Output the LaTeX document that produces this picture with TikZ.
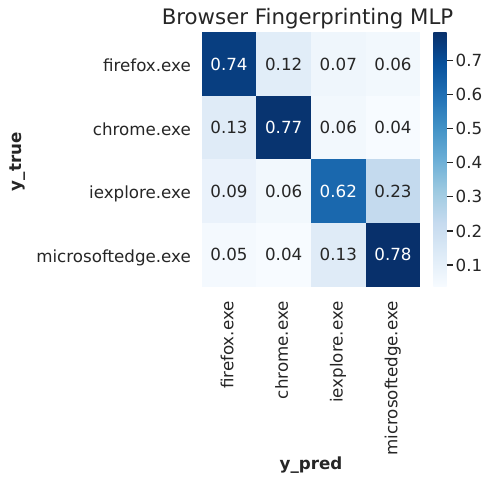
\documentclass[tikz,border=0pt]{standalone}
\usepackage{fontspec}
\setmainfont{DejaVu Sans}
\definecolor{txt}{RGB}{38,38,38}
% Blues colormap anchors
\definecolor{b0}{RGB}{247,251,255}
\definecolor{b1}{RGB}{222,235,247}
\definecolor{b2}{RGB}{198,219,239}
\definecolor{b3}{RGB}{158,202,225}
\definecolor{b4}{RGB}{107,174,214}
\definecolor{b5}{RGB}{66,146,198}
\definecolor{b6}{RGB}{33,113,181}
\definecolor{b7}{RGB}{8,81,156}
\definecolor{b8}{RGB}{8,48,107}
% cell colours
\definecolor{v74}{RGB}{8,62,128}
\definecolor{v12}{RGB}{225,237,248}
\definecolor{v07}{RGB}{239,246,252}
\definecolor{v06}{RGB}{242,248,253}
\definecolor{v13}{RGB}{223,235,247}
\definecolor{v77}{RGB}{8,52,112}
\definecolor{v04}{RGB}{247,251,255}
\definecolor{v09}{RGB}{234,242,251}
\definecolor{v62}{RGB}{26,104,174}
\definecolor{v23}{RGB}{196,218,238}
\definecolor{v05}{RGB}{244,249,254}
\definecolor{v78}{RGB}{8,48,107}
\pgfdeclareverticalshading{blues}{100bp}{color(0bp)=(b0); color(25bp)=(b0); color(31.25bp)=(b1); color(37.5bp)=(b2); color(43.75bp)=(b3); color(50bp)=(b4); color(56.25bp)=(b5); color(62.5bp)=(b6); color(68.75bp)=(b7); color(75bp)=(b8); color(100bp)=(b8)}
\begin{document}
\begin{tikzpicture}[x=1pt,y=-1pt,
  lab/.style={font=\fontsize{16.7pt}{20pt}\selectfont, text=txt, inner sep=0pt},
  axlab/.style={font=\fontsize{16.7pt}{20pt}\selectfont\bfseries, text=txt, inner sep=0pt},
  cell/.style={minimum width=54.9pt, minimum height=63.85pt, inner sep=0pt, outer sep=0pt, draw=none,
    font=\fontsize{16.7pt}{20pt}\selectfont},
  tickline/.style={draw=txt, line width=1.1pt}]
\useasboundingbox (0,0) rectangle (486,476);
\fill[white] (0,0) rectangle (486,476);
% title
\node[anchor=base, font=\fontsize{21.3pt}{25pt}\selectfont, text=txt, inner sep=0pt] (title) at (307.5,25) {Browser Fingerprinting MLP};
% heatmap cells
\foreach \r/\c/\v/\col/\tc in {
  0/0/0.74/v74/white, 0/1/0.12/v12/txt, 0/2/0.07/v07/txt, 0/3/0.06/v06/txt,
  1/0/0.13/v13/txt, 1/1/0.77/v77/white, 1/2/0.06/v06/txt, 1/3/0.04/v04/txt,
  2/0/0.09/v09/txt, 2/1/0.06/v06/txt, 2/2/0.62/v62/white, 2/3/0.23/v23/txt,
  3/0/0.05/v05/txt, 3/1/0.04/v04/txt, 3/2/0.13/v13/txt, 3/3/0.78/v78/white}
  \node[cell, fill=\col, text=\tc] (c\r\c) at ({201.7+54.65*(\c+0.5)},{32.3+63.6*(\r+0.5)}) {\v};
% y tick labels
\foreach \r/\t in {0/firefox.exe, 1/chrome.exe, 2/iexplore.exe, 3/microsoftedge.exe}
  \node[lab, anchor=base east] (yl\r) at (191,{32.3+63.6*(\r+0.5)+7.4}) {\t};
% x tick labels
\foreach \c/\t in {0/firefox.exe, 1/chrome.exe, 2/iexplore.exe, 3/microsoftedge.exe}
  \node[lab, rotate=90, anchor=base east] (xl\c) at ({201.7+54.65*(\c+0.5)+4.3},301) {\t};
% axis labels
\node[axlab, rotate=90] (ytrue) at (17.5,161.7) {y\_true};
\node[axlab, anchor=base] (ypred) at (311,469.5) {y\_pred};
% colorbar
\shade[shading=blues] (433.3,32.3) rectangle (446.7,286.7);
\foreach \i/\v/\y in {1/0.1/265, 2/0.2/230.95, 3/0.3/196.9, 4/0.4/162.85, 5/0.5/128.8, 6/0.6/94.75, 7/0.7/60.7} {
  \coordinate (tk\i) at (446.7,\y);
  \coordinate (te\i) at (452.5,\y);
  \node[lab, anchor=west] (tl\i) at (455.5,\y) {\v};
  \draw[tickline] (tk\i) -- (te\i);
}
\end{tikzpicture}
\end{document}
